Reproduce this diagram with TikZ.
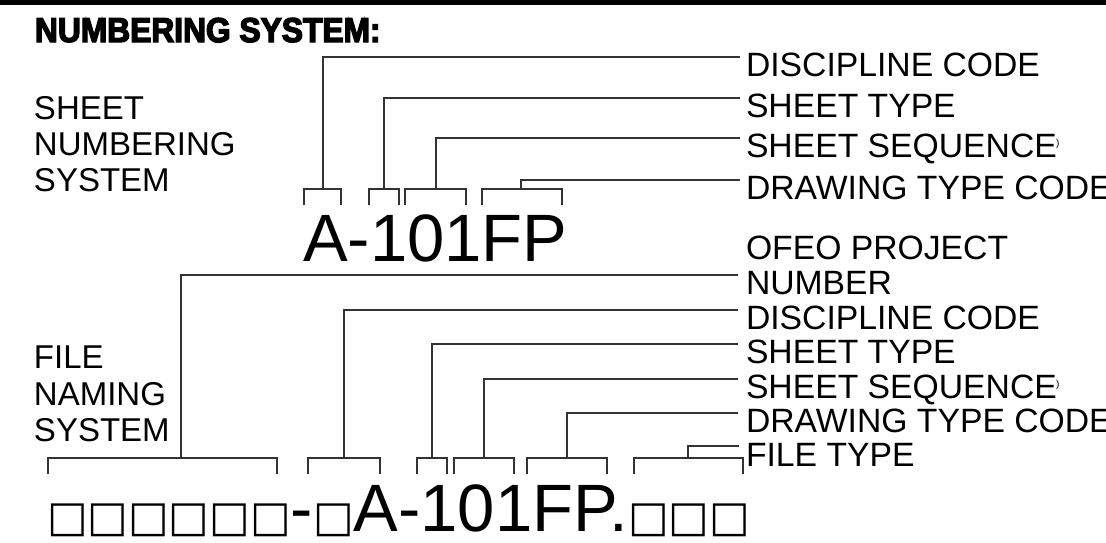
\documentclass[tikz,border=0pt]{standalone}
\usepackage{fontspec}
\setmainfont{Liberation Sans}
\newfontfamily\titlefont[FakeBold=4,FakeStretch=0.92]{Liberation Sans Bold}
\newfontfamily\boxfont{DejaVu Sans}
\newcommand{\bx}[1]{{\boxfont\fontsize{43}{43}\selectfont #1}}
\begin{document}
\begin{tikzpicture}[x=1pt,y=-1pt,
  every node/.style={inner sep=0pt, outer sep=0pt},
  lbl/.style={anchor=base west, font=\fontsize{33}{33}\selectfont},
  rlbl/.style={anchor=base west, font=\fontsize{33.7}{33.7}\selectfont},
  big/.style={anchor=base west, font=\fontsize{67}{67}\selectfont},
  tiny/.style={anchor=base west, font=\fontsize{10}{10}\selectfont},
  ln/.style={line width=1.1pt, draw=black!80}]
\useasboundingbox (0,0) rectangle (1106,542);
\fill[black] (0,0) rectangle (1106,5);
\node[anchor=base west, font=\titlefont\fontsize{34.5}{34.5}\selectfont] (title) at (35,42) {NUMBERING SYSTEM:};
% left labels
\node[lbl] (sa) at (34,119) {SHEET};
\node[lbl] (sb) at (34,155) {NUMBERING};
\node[lbl] (sc) at (34,191) {SYSTEM};
\node[lbl] (fa) at (34,368) {FILE};
\node[lbl] (fb) at (34,405) {NAMING};
\node[lbl] (fc) at (34,441) {SYSTEM};
% big codes
\node[big] (sheetnum) at (303,261) {A-101FP};
\node[big] (filenum) at (47,531) {\bx{□□□□□□}-\bx{□}A-101FP.\bx{□□□}};
% right labels top
\node[rlbl] (t1) at (746,76) {DISCIPLINE CODE};
\node[rlbl] (t2) at (746,117) {SHEET TYPE};
\node[rlbl] (t3) at (746,157) {SHEET SEQUENCE};
\node[tiny] (t3x) at (1056,146) {)};
\node[rlbl] (t4) at (746,199) {DRAWING TYPE CODE};
% right labels bottom
\node[rlbl] (b0) at (746,259) {OFEO PROJECT};
\node[rlbl] (b1) at (746,294) {NUMBER};
\node[rlbl] (b2) at (746,329) {DISCIPLINE CODE};
\node[rlbl] (b3) at (746,363) {SHEET TYPE};
\node[rlbl] (b4) at (746,398) {SHEET SEQUENCE};
\node[tiny] (b4x) at (1056,387) {)};
\node[rlbl] (b5) at (746,432) {DRAWING TYPE CODE};
\node[rlbl] (b6) at (746,466) {FILE TYPE};
% top brackets
\draw[ln] (304,205) |- (341,189) -- (341,205);
\draw[ln] (369,205) |- (399,189) -- (399,205);
\draw[ln] (405,205) |- (466,189) -- (466,205);
\draw[ln] (482,205) |- (562,189) -- (562,205);
\draw[ln] (323,189) |- (740,57);
\draw[ln] (384,189) |- (740,98);
\draw[ln] (436,189) |- (740,138);
\draw[ln] (521,189) |- (740,180);
% bottom brackets
\draw[ln] (48,474) |- (277,458) -- (277,474);
\draw[ln] (308,474) |- (380,458) -- (380,474);
\draw[ln] (417,474) |- (447,458) -- (447,474);
\draw[ln] (454,474) |- (514,458) -- (514,474);
\draw[ln] (527,474) |- (607,458) -- (607,474);
\draw[ln] (634,474) |- (743,458) -- (743,474);
\draw[ln] (181,458) |- (738,275);
\draw[ln] (344,458) |- (738,310);
\draw[ln] (432,458) |- (738,344);
\draw[ln] (484,458) |- (738,379);
\draw[ln] (567,458) |- (738,413);
\draw[ln] (688,458) |- (739,446);
\end{tikzpicture}
\end{document}
